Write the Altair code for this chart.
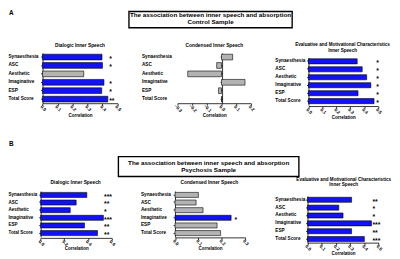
import altair as alt
import pandas as pd

categories = ["Synaesthesia", "ASC", "Aesthetic", "Imaginative", "ESP", "Total Score"]

control_dialogic = [0.397, 0.400, 0.275, 0.410, 0.395, 0.436]
control_condensed = [0.076, -0.033, -0.230, 0.160, -0.020, 0.003]
control_evaluative = [0.350, 0.386, 0.418, 0.448, 0.356, 0.471]
psychosis_dialogic = [0.390, 0.300, 0.250, 0.530, 0.370, 0.480]
psychosis_condensed = [0.100, 0.090, 0.120, 0.240, 0.180, 0.195]
psychosis_evaluative = [0.310, 0.220, 0.250, 0.450, 0.310, 0.400]

control_dialogic_stars = ["*", "*", "", "*", "*", "**"]
control_condensed_stars = ["", "", "", "", "", ""]
control_evaluative_stars = ["*", "*", "*", "*", "*", "*"]
psychosis_dialogic_stars = ["***", "**", "*", "***", "**", "**"]
psychosis_condensed_stars = ["", "", "", "*", "", ""]
psychosis_evaluative_stars = ["**", "*", "*", "***", "**", "***"]

ticks_05 = [0.0, 0.1, 0.2, 0.3, 0.4, 0.5]
ticks_condensed_control = [-0.3, -0.2, -0.1, 0.0, 0.1, 0.2]
ticks_06 = [0.0, 0.2, 0.4, 0.6]
ticks_03 = [0.0, 0.1, 0.2, 0.3]

main_title = "The association between inner speech and absorption"
sample_titles = ["Control Sample", "Psychosis Sample"]
panel_letters = ["A", "B"]
panel_titles = ["Dialogic Inner Speech", "Condensed Inner Speech",
                "Evaluative and Motivational Characteristics", "Inner Speech"]
axis_title = "Correlation"

W, H = 392, 251
FONT = "Liberation Sans"
BLUE = "#1212f2"
GREY = "#b3b3b3"
SY = 0.975


def fx(v):
    return round((v - 2) * 0.98, 2)


def fy(v):
    return round((v - 3) * SY, 2)


def panel(vals, stars, ticks, xr, yr, axis_y, label_left, star_x,
          yaxis_x=None, label_size=4.8, pad=0.32, title_dy=11.5):
    df = pd.DataFrame({"cat": categories, "r": vals, "stars": stars,
                       "fill": [BLUE if s else GREY for s in stars]})
    x0, x1 = fx(xr[0]), fx(xr[1])
    y0, y1 = fy(yr[0]), fy(yr[1])
    ax_y = fy(axis_y)
    yx = fx(yaxis_x) if yaxis_x is not None else x0
    ll = fx(label_left)
    dom = [ticks[0], ticks[-1]]
    xaxis = alt.Axis(orient="bottom", offset=round(ax_y - H, 2), values=ticks, format=".1f",
                     grid=False, labelAngle=45, labelAlign="center",
                     labelBaseline="middle", labelPadding=3, labelFontSize=4.6,
                     labelFont=FONT, labelFontWeight="bold", labelColor="black",
                     labelFlush=False, labelOverlap=False, labelBound=False,
                     tickSize=2, tickColor="black", tickWidth=0.8,
                     domainColor="black", domainWidth=0.8,
                     title=axis_title, titleFont=FONT, titleFontSize=4.6,
                     titleFontWeight="bold", titleColor="black",
                     titleY=round(title_dy * SY, 2), titleBaseline="middle")
    yaxis = alt.Axis(orient="left", offset=-yx, labelAlign="left",
                     labelBaseline="middle", labelPadding=round(yx - ll - 2, 2),
                     labelFontSize=label_size, labelFont=FONT, labelFontWeight="bold",
                     labelColor="black", labelLimit=200,
                     tickSize=2, tickColor="black", tickWidth=0.8,
                     domainColor="black", domainWidth=0.8, title=None, grid=False)
    bars = alt.Chart(df).mark_bar(stroke="black", strokeWidth=0.6).encode(
        x=alt.X("r:Q", scale=alt.Scale(domain=dom, range=[x0, x1], nice=False), axis=xaxis),
        y=alt.Y("cat:N", scale=alt.Scale(domain=categories, range=[y0, y1],
                                         paddingInner=pad, paddingOuter=pad / 2),
                axis=yaxis, sort=None),
        color=alt.Color("fill:N", scale=None),
    )
    txt = alt.Chart(df).mark_text(align="left", baseline="middle", font=FONT,
                                  fontSize=7, fontWeight="bold", dy=1.8,
                                  color="black").encode(
        x=alt.XDatum(star_x, type="quantitative", axis=None,
                     scale=alt.Scale(domain=dom, range=[x0, x1], nice=False)),
        y=alt.Y("cat:N", sort=None, axis=None,
                scale=alt.Scale(type="point", domain=categories, range=[y0, y1], padding=0.5)),
        text="stars:N",
    )
    return [bars, txt]


one = pd.DataFrame({"k": [0]})


def label(text, x, y, size, weight="bold"):
    return alt.Chart(one).mark_text(text=text, font=FONT, fontSize=size,
                                    fontWeight=weight, align="center",
                                    baseline="middle", color="black").encode(
        x=alt.value(fx(x)), y=alt.value(fy(y)))


def box(x0, x1, y0, y1):
    return alt.Chart(one).mark_rect(fillOpacity=0, stroke="black",
                                    strokeWidth=1.4).encode(
        x=alt.value(fx(x0)), x2=alt.value(fx(x1)),
        y=alt.value(fy(y0)), y2=alt.value(fy(y1)))


layers = []
layers += panel(control_dialogic, control_dialogic_stars, ticks_05,
                (38, 116), (47.3, 100.1), 100, 2, 0.445, title_dy=12.5)
layers += panel(control_condensed, control_condensed_stars, ticks_condensed_control,
                (178.5, 255), (47.3, 100.1), 100, 141, 0.17, yaxis_x=225, title_dy=12.5)
layers += panel(control_evaluative, control_evaluative_stars, ticks_05,
                (315, 387.5), (52, 102), 103, 280, 0.486, pad=0.36, title_dy=11.5)
layers += panel(psychosis_dialogic, psychosis_dialogic_stars, ticks_06,
                (36, 110), (192, 240), 241, 2, 0.535, label_size=4.6, pad=0.34, title_dy=11.5)
layers += panel(psychosis_condensed, psychosis_condensed_stars, ticks_03,
                (176, 249), (192, 240), 240.5, 140, 0.255, pad=0.34, title_dy=11.5)
layers += panel(psychosis_evaluative, psychosis_evaluative_stars, ticks_05,
                (314, 388), (197, 246.4), 246, 280, 0.457, pad=0.36, title_dy=11)

decor = [
    label(panel_letters[0], 5.5, 5.5, 6.5),
    label(panel_letters[1], 5.5, 143, 6.5),
    box(128, 298, 4, 21),
    label(main_title, 213, 7.6, 6.4),
    label(sample_titles[0], 213, 15.4, 6.4),
    box(117, 305, 156, 176.7),
    label(main_title, 211, 162.9, 6.4),
    label(sample_titles[1], 211, 170.2, 6.4),
    label(panel_titles[0], 77, 40, 4.9),
    label(panel_titles[1], 217, 40, 4.9),
    label(panel_titles[2], 350.5, 39, 4.7),
    label(panel_titles[3], 350.5, 45, 4.7),
    label(panel_titles[0], 72.5, 184, 4.9),
    label(panel_titles[1], 211.7, 184, 4.9),
    label(panel_titles[2], 351.7, 180, 4.7),
    label(panel_titles[3], 351.7, 185.5, 4.7),
]

chart = alt.layer(*layers, *decor).resolve_scale(
    x="independent", y="independent"
).properties(
    width=W, height=H, autosize=alt.AutoSizeParams(type="none"),
    padding=0, background="white"
).configure_view(stroke=None)

chart.save("out.html", embed_options={"renderer": "svg", "actions": False})
